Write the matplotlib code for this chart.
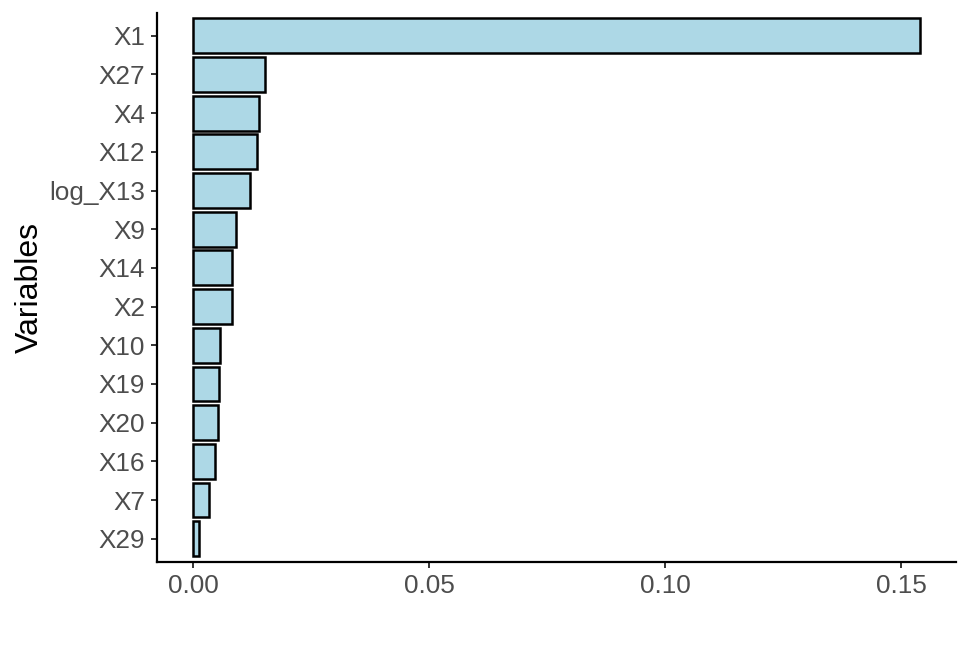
import matplotlib
matplotlib.use("Agg")
import matplotlib.pyplot as plt

variables = ["X1", "X27", "X4", "X12", "log_X13", "X9", "X14", "X2",
             "X10", "X19", "X20", "X16", "X7", "X29"]
importance = [0.1539, 0.0152, 0.0139, 0.0134, 0.0121, 0.0090, 0.0083, 0.0081,
              0.0056, 0.0055, 0.0053, 0.0045, 0.0034, 0.0013]
xticks = [0.00, 0.05, 0.10, 0.15]
xtick_labels = ["0.00", "0.05", "0.10", "0.15"]

plt.rcParams['font.family'] = ['Liberation Sans', 'DejaVu Sans']

fig = plt.figure(figsize=(9.69, 6.46), dpi=100)
ax = fig.add_axes([157 / 969, 1 - 562 / 646, (956 - 157) / 969, (562 - 12.5) / 646])

n = len(variables)
ypos = list(range(n - 1, -1, -1))
ax.barh(ypos, importance, height=0.9, color="#ADD8E6", edgecolor="black", linewidth=1.8)

xmax = max(importance)
pad = 0.05 * xmax
ax.set_xlim(-pad, xmax + pad)
ax.set_ylim(-0.6, n - 1 + 0.6)

ax.set_yticks(ypos)
ax.set_yticklabels(variables)
ax.set_xticks(xticks)
ax.set_xticklabels(xtick_labels)

for s in ["top", "right"]:
    ax.spines[s].set_visible(False)
for s in ["left", "bottom"]:
    ax.spines[s].set_linewidth(1.6)
    ax.spines[s].set_color("black")

ax.tick_params(axis="both", labelsize=18.8, labelcolor="#4D4D4D", color="#333333",
               length=4.5, width=1.4, pad=4)
ax.set_ylabel("Variables", fontsize=23, color="black", labelpad=3.5)

fig.savefig("out.png", dpi=100)
